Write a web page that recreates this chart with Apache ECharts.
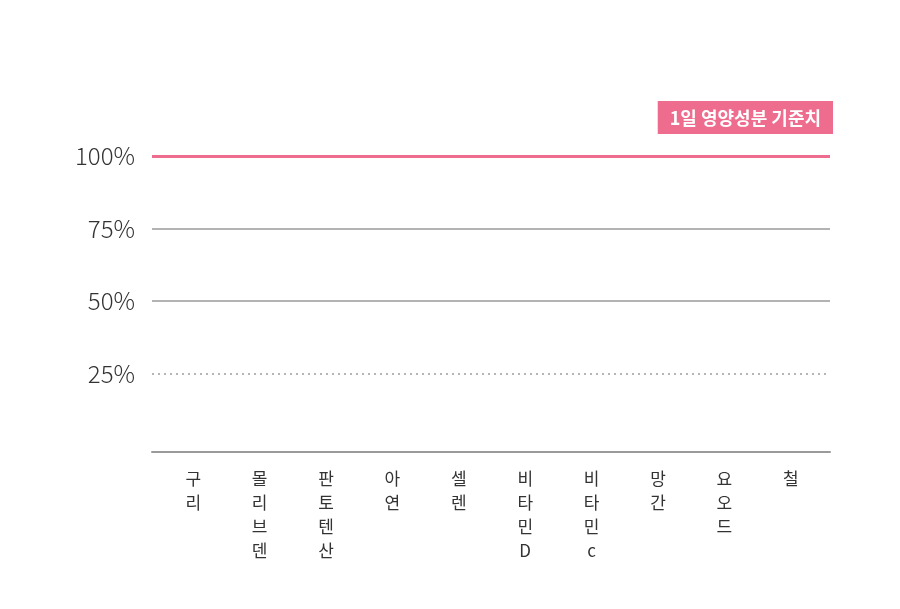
<!DOCTYPE html>
<html><head><meta charset="utf-8">
<script src="https://cdn.jsdelivr.net/npm/echarts@6/dist/echarts.min.js"></script>
<style>html,body{margin:0;padding:0;background:#fff}#c{width:900px;height:609px}</style>
</head><body><div id="c"></div>
<script>
const categories = ['구리','몰리브덴','판토텐산','아연','셀렌','비타민D','비타민c','망간','요오드','철'];
const values = [0,0,0,0,0,0,0,0,0,0];
const refLines = [100, 75, 50, 25];
const refTitle = '1일 영양성분 기준치';
const FONT = '"Noto Sans CJK KR", "Noto Sans", sans-serif';
const chart = echarts.init(document.getElementById('c'));
const lineStyles = {
  100: {color:'#ee6d8f', width:3, type:'solid'},
  75: {color:'#9a9a9a', width:1.5, type:'solid'},
  50: {color:'#9a9a9a', width:1.5, type:'solid'},
  25: {color:'#b5b5b5', width:2, type:[2,4]}
};
chart.setOption({
  animation:false,
  title:{text:refTitle, right:67, top:101, backgroundColor:'#ee6d8f', padding:[8,12,7,12],
    textStyle:{color:'#fff', fontSize:18, fontWeight:'bold', fontFamily:FONT}},
  grid:[
    {left:152, right:70, top:156, bottom:163},
    {left:160, right:76, top:156, bottom:163}
  ],
  xAxis:[
    {type:'category', gridIndex:0, data:categories, offset:6,
      axisLine:{show:true, onZero:false, lineStyle:{color:'#9a9a9a', width:2}},
      axisTick:{show:false}, axisLabel:{show:false}},
    {type:'category', gridIndex:1, data:categories, offset:6, axisLine:{show:false, onZero:false}, axisTick:{show:false},
      axisLabel:{margin:15, color:'#333', fontSize:17, lineHeight:24, fontFamily:FONT,
        formatter:v=>v.split('').join('\n')}}
  ],
  yAxis:[
    {type:'value', gridIndex:0, min:0, max:100, interval:25, splitLine:{show:false},
      axisLine:{show:false}, axisTick:{show:false},
      axisLabel:{margin:17, color:'#333', fontSize:24, fontWeight:300, fontFamily:FONT,
        formatter:v=>(v>0? v+'%':'')}},
    {type:'value', gridIndex:1, min:0, max:100, show:false}
  ],
  series:[
    {type:'line', xAxisIndex:0, yAxisIndex:0, data:[], silent:true,
      markLine:{symbol:'none', silent:true, label:{show:false},
        data: refLines.map(v=>({yAxis:v, lineStyle:lineStyles[v]}))}},
    {type:'bar', xAxisIndex:1, yAxisIndex:1, data:values, itemStyle:{color:'#ee6d8f'}}
  ]
});
</script></body></html>
